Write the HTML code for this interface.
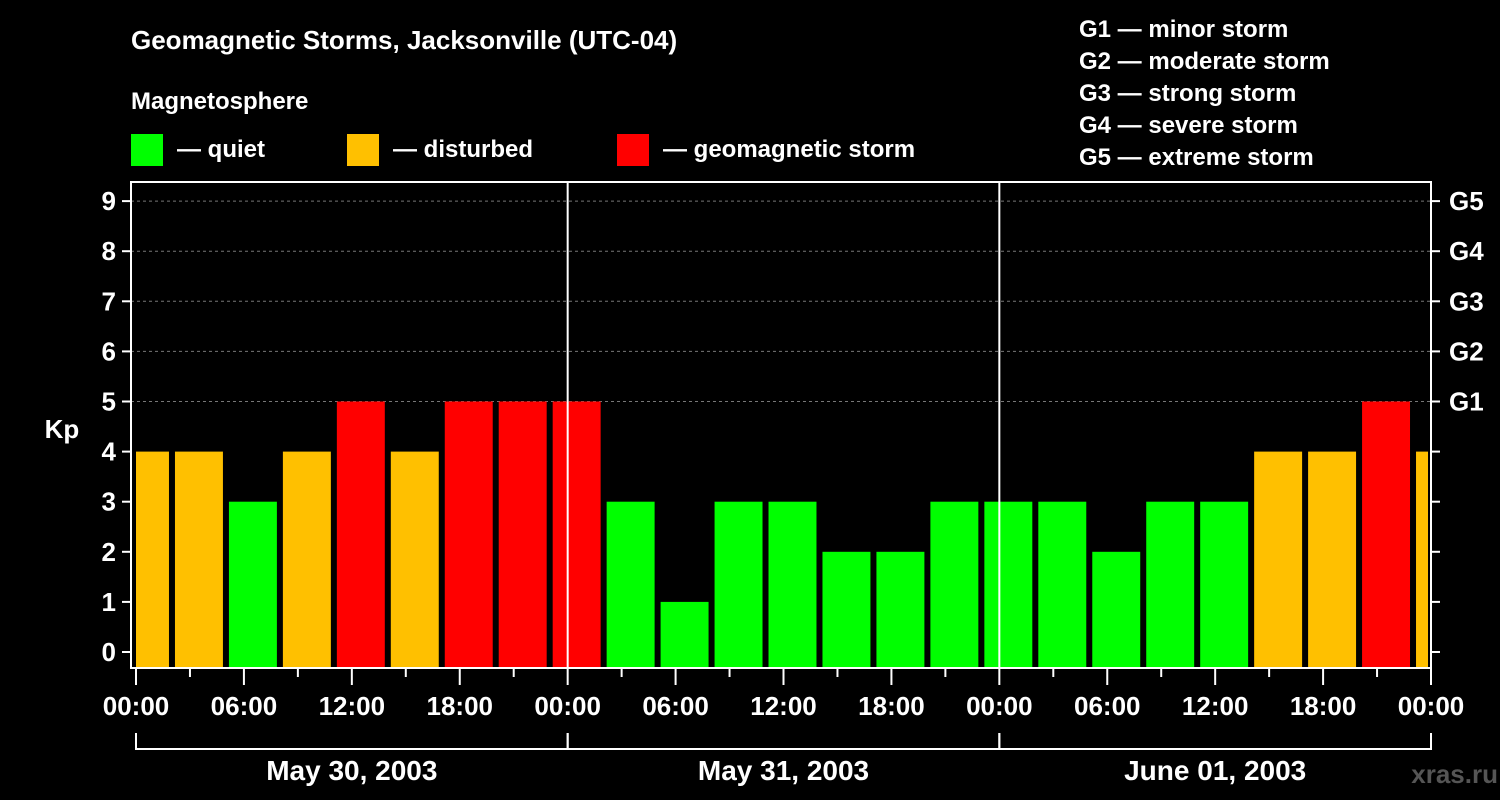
<!DOCTYPE html>
<html><head><meta charset="utf-8"><style>
html,body{margin:0;padding:0;background:#000;}
svg{display:block;font-family:"Liberation Sans",Arial,sans-serif;font-weight:bold;}
</style></head><body>
<svg id="chart" width="1500" height="800" viewBox="0 0 1500 800">
<rect width="1500" height="800" fill="#000"/>
<text x="131" y="49" fill="#fff" font-size="26">Geomagnetic Storms, Jacksonville (UTC-04)</text>
<text x="131" y="109" fill="#fff" font-size="24">Magnetosphere</text>
<g><rect x="131" y="134" width="32" height="32" fill="#00ff00"/><text x="177" y="157" fill="#fff" font-size="24">— quiet</text></g>
<g><rect x="347" y="134" width="32" height="32" fill="#ffc000"/><text x="393" y="157" fill="#fff" font-size="24">— disturbed</text></g>
<g><rect x="617" y="134" width="32" height="32" fill="#ff0000"/><text x="663" y="157" fill="#fff" font-size="24">— geomagnetic storm</text></g>
<g fill="#fff" font-size="24">
<text x="1079" y="37">G1 — minor storm</text>
<text x="1079" y="69">G2 — moderate storm</text>
<text x="1079" y="101">G3 — strong storm</text>
<text x="1079" y="133">G4 — severe storm</text>
<text x="1079" y="165">G5 — extreme storm</text>
</g>
<text x="62" y="438" fill="#fff" font-size="26" text-anchor="middle">Kp</text>
<text x="1498" y="783" fill="#555" font-size="26" text-anchor="end">xras.ru</text>
<g id="grid"></g><g id="bars"></g><g id="axes"></g>
</svg>
<script>
const kpValues=[4,4,3,4,5,4,5,5,5,3,1,3,3,2,2,3,3,3,2,3,3,4,4,5,4];
const yTicks=[0,1,2,3,4,5,6,7,8,9];
const gLabels=["G1","G2","G3","G4","G5"];
const xTickLabels=["00:00","06:00","12:00","18:00"];
const dayLabels=["May 30, 2003","May 31, 2003","June 01, 2003"];
const NS="http://www.w3.org/2000/svg";
const L=131,R=1431,T=182,B=668,X0=136,DAY=431.67;
const x=h=>X0+h*DAY/24;
const y=v=>652-v*50.1;
function el(t,a,p){const e=document.createElementNS(NS,t);for(const k in a)e.setAttribute(k,a[k]);document.getElementById(p).appendChild(e);return e;}
// grid
for(let v=5;v<=9;v++){const g=el('line',{x1:L,x2:R,y1:y(v),y2:y(v),stroke:'#777','stroke-dasharray':'3,3','stroke-width':1},'grid');

}
// bars: slot i starts at local hour -1+3*i (UTC-4 shift)
const col=v=>v>=5?'#ff0000':(v>=4?'#ffc000':'#00ff00');
kpValues.forEach((v,i)=>{let s=-1+3*i,e=s+3;let xs=Math.max(x(s)+3,x(0)),xe=Math.min(x(e)-3,x(72)-3);
const r=el('rect',{x:xs,y:y(v),width:xe-xs,height:B-y(v),fill:col(v)},'bars');

});
// day separators
[1,2].forEach(d=>{const l=el('line',{x1:x(24*d),x2:x(24*d),y1:T,y2:B,stroke:'#fff','stroke-width':2},'axes');

});
// frame
const f=el('path',{d:`M${L},${T}H${R}V${B}H${L}Z`,fill:'none',stroke:'#fff','stroke-width':2},'axes');


yTicks.forEach(v=>{
el('line',{x1:122,x2:L,y1:y(v),y2:y(v),stroke:'#fff','stroke-width':2},'axes');
el('line',{x1:R,x2:R+9,y1:y(v),y2:y(v),stroke:'#fff','stroke-width':2},'axes');
const t=el('text',{x:116,y:y(v)+9,fill:'#fff','font-size':26,'text-anchor':'end'},'axes');t.textContent=v;

});
gLabels.forEach((g,i)=>{const t=el('text',{x:1449,y:y(5+i)+9,fill:'#fff','font-size':26},'axes');t.textContent=g;

});
for(let h=0;h<=72;h+=3){const maj=h%6==0;el('line',{x1:x(h),x2:x(h),y1:B,y2:B+(maj?17:9),stroke:'#fff','stroke-width':2},'axes');
if(maj){const t=el('text',{x:x(h),y:715,fill:'#fff','font-size':26,'text-anchor':'middle'},'axes');t.textContent=xTickLabels[(h/6)%4];

}}
dayLabels.forEach((d,i)=>{
el('path',{d:`M${x(24*i)},733V749H${x(24*i+24)}V733`,fill:'none',stroke:'#fff','stroke-width':2},'axes');
const t=el('text',{x:x(24*i+12),y:780,fill:'#fff','font-size':28,'text-anchor':'middle'},'axes');t.textContent=d;

});
</script>
</body></html>
